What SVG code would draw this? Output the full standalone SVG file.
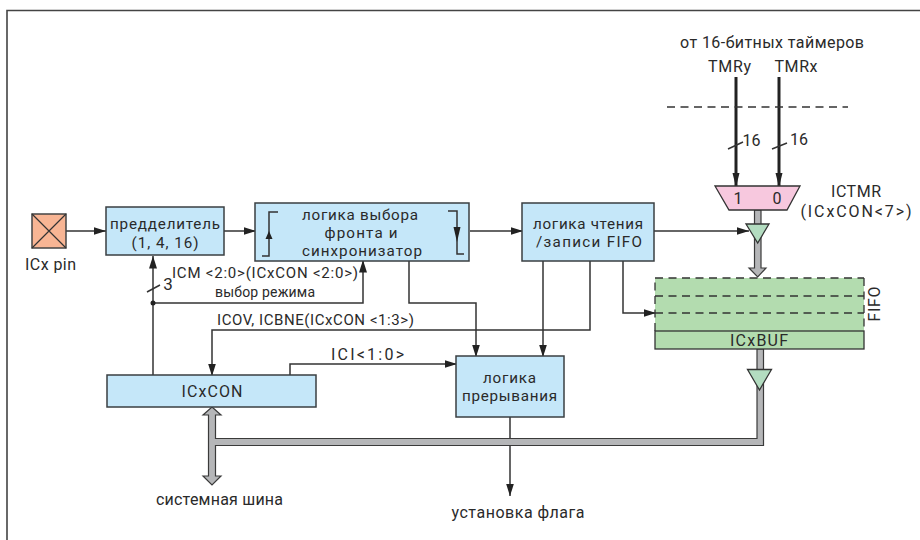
<svg xmlns="http://www.w3.org/2000/svg" width="920" height="540" viewBox="0 0 920 540">
<style>
text{font-family:Roboto,"Noto Sans","DejaVu Sans",sans-serif;fill:#2a2a2a;text-anchor:middle}
.t16{font-size:16px}.t14{font-size:14px}.t15{font-size:15px}.n{font-size:15.200px}
.box{fill:#c5e7f9;stroke:#3a3f42;stroke-width:1.5}
.w{fill:none;stroke:#333;stroke-width:1.5}
.thick{fill:none;stroke:#222;stroke-width:3}
.dash{fill:none;stroke:#333;stroke-width:1.3;stroke-dasharray:8 5.500}
.bus{fill:#b5b6b8;stroke:#3a3a3a;stroke-width:1.2}
.tri{fill:#b3dcc0;stroke:#333;stroke-width:1.3}
</style>
<defs>
<marker id="a" markerUnits="userSpaceOnUse" markerWidth="13" markerHeight="9" refX="12.500" refY="4.500" orient="auto"><path d="M0 0.500L12.500 4.500L0 8.500z" fill="#222"/></marker>
</defs>
<path d="M7 540V10.500H920" fill="none" stroke="#444" stroke-width="1.600"/>
<g id="connectors">
<path class="w" d="M66 231H106" marker-end="url(#a)"/>
<path class="w" d="M224 231H256" marker-end="url(#a)"/>
<path class="w" d="M470 231H523" marker-end="url(#a)"/>
<path class="w" d="M153 375V256" marker-end="url(#a)"/>
<path class="w" d="M153 303H363V260" marker-end="url(#a)"/>
<path class="w" d="M147 292L160 285"/>
<path class="w" d="M409 261V303H476V357" marker-end="url(#a)"/>
<path class="w" d="M543 261V357" marker-end="url(#a)"/>
<path class="w" d="M590 261V330H212V376" marker-end="url(#a)"/>
<path class="w" d="M290 375V364H457" marker-end="url(#a)"/>
<path class="w" d="M510 417V496" marker-end="url(#a)"/>
<path class="w" d="M623 261V313H656" marker-end="url(#a)"/>
<path class="w" d="M654 231H749" marker-end="url(#a)"/>
<circle cx="153" cy="303" r="2.500" fill="#222"/>
<path class="thick" d="M736 77V186"/><path d="M732.500 173H739.500L736 187z" fill="#222"/>
<path class="thick" d="M779 77V186"/><path d="M775.500 173H782.500L779 187z" fill="#222"/>
<path class="w" d="M728 149L743 142M772 149L787 143" stroke-width="1.200"/>
<path class="dash" d="M667 107H848"/>
<path class="bus" d="M754.500 210H761V268H766L757.700 277L749 268H754.500z"/>
<path class="bus" d="M212 407L221 415H215.500V438.500H757V349H763.500V445.500H215.500V476H221L212 485L203 476H208.500V415H203z"/>
</g>
<g id="icx-pin"><rect x="32" y="214" width="34" height="34" fill="#f8b594" stroke="#444" stroke-width="1.500"/><path d="M32 214L66 248M66 214L32 248" stroke="#333" stroke-width="1.200"/><text class="t16" x="50.500" y="270" textLength="51">ICx pin</text></g>
<g id="prescaler"><rect class="box" x="106" y="207" width="118" height="48"/><text class="n" x="165" y="229" textLength="110">предделитель</text><text class="n" x="165" y="248" textLength="67">(1, 4, 16)</text></g>
<g id="edge"><rect class="box" x="255" y="203" width="214" height="58"/><text class="n" x="360" y="220" textLength="116">логика выбора</text><text class="n" x="361" y="238" textLength="73">фронта и</text><text class="n" x="362" y="256" textLength="120">синхронизатор</text><path class="w" d="M278 212H269V256H262" stroke-width="1.300"/><path d="M265.500 239H272.500L269 231z" fill="#222"/><path class="w" d="M448 211H457V254H464" stroke-width="1.300"/><path d="M453.500 227H460.500L457 242z" fill="#222"/></g>
<g id="fifo-logic"><rect class="box" x="522" y="203" width="132" height="58"/><text class="n" x="588" y="229" textLength="110">логика чтения</text><text class="n" x="589" y="247" textLength="106">/записи FIFO</text></g>
<g id="icxcon"><rect class="box" x="107" y="375" width="209" height="32"/><text class="t16" x="212" y="397" textLength="61">ICxCON</text></g>
<g id="int-logic"><rect class="box" x="456" y="356" width="108" height="61"/><text class="n" x="509.500" y="383" textLength="53">логика</text><text class="n" x="509.500" y="401" textLength="95">прерывания</text></g>
<g id="mux"><path d="M715 186H800L787 210H729z" fill="#f7c8de" stroke="#333" stroke-width="1.300"/><text class="t16" x="738" y="204">1</text><text class="t16" x="777" y="204">0</text></g>
<g id="tri1"><path class="tri" d="M746 224H769L757.700 243z"/></g>
<g id="fifo"><rect x="655" y="278" width="209" height="53" fill="#b3dcaf"/><path class="dash" d="M655 278H864M655 296H864M655 313H864M655 331V278M864 278V331"/><rect x="655" y="331" width="209" height="18" fill="#b3dcaf" stroke="#333" stroke-width="1.300"/><text class="t16" x="759" y="346" textLength="58">ICxBUF</text><text class="t16" transform="translate(880 304) rotate(-90)" textLength="35">FIFO</text></g>
<g id="tri2"><path class="tri" d="M747.500 369.500H771.500L759.500 390z"/></g>
<g id="labels">
<text class="t16" x="772" y="48" textLength="184">от 16-битных таймеров</text>
<text class="t16" x="729.500" y="72" textLength="43">TMRy</text><text class="t16" x="796" y="72" textLength="43">TMRx</text>
<text class="t16" x="751.500" y="146">16</text><text class="t16" x="799" y="145">16</text>
<text class="t16" x="856" y="197" textLength="50">ICTMR</text><text class="t16" x="856" y="217" textLength="111">(ICxCON&lt;7&gt;)</text>
<text x="168" y="290" style="font-size:17px">3</text>
<text class="t15" x="265" y="278" textLength="186">ICM &lt;2:0&gt;(ICxCON &lt;2:0&gt;)</text>
<text class="t14" x="265" y="297" textLength="100">выбор режима</text>
<text class="t15" x="315.500" y="325" textLength="197">ICOV, ICBNE(ICxCON &lt;1:3&gt;)</text>
<text class="t16" x="367.500" y="360" textLength="73">ICI&lt;1:0&gt;</text>
<text class="t16" x="219.500" y="505" textLength="127">системная шина</text>
<text class="t16" x="518" y="518" textLength="133">установка флага</text>
</g>
</svg>
